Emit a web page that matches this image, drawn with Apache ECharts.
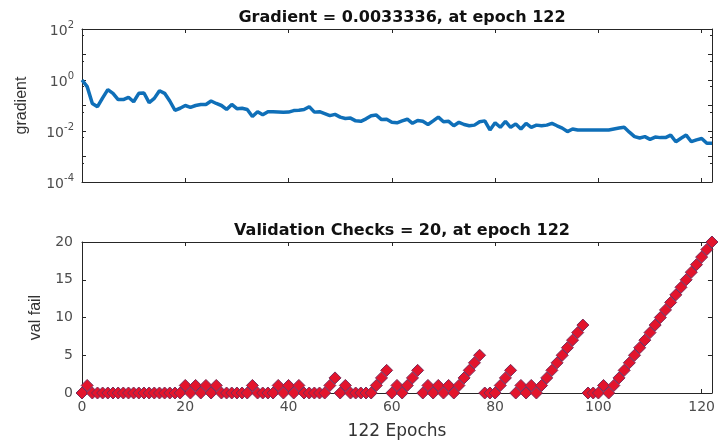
<!DOCTYPE html>
<html>
<head>
<meta charset="utf-8">
<script src="https://cdn.jsdelivr.net/npm/echarts@6/dist/echarts.min.js"></script>
<style>
  html, body { margin: 0; padding: 0; background: #fff; }
  #chart { width: 718px; height: 443px; }
</style>
</head>
<body>
<div id="chart"></div>
<script>
// gradient per epoch (0..122)
const gradient = [
  1.0, 0.55, 0.12, 0.09, 0.2, 0.42, 0.3, 0.17, 0.17, 0.21,
  0.14, 0.3, 0.31, 0.13, 0.19, 0.38, 0.3, 0.15, 0.065, 0.078,
  0.1, 0.085, 0.1, 0.11, 0.11, 0.15, 0.12, 0.1, 0.07, 0.11,
  0.075, 0.078, 0.07, 0.037, 0.057, 0.043, 0.057, 0.057, 0.056, 0.054,
  0.055, 0.063, 0.065, 0.07, 0.09, 0.055, 0.057, 0.048, 0.04, 0.045,
  0.035, 0.031, 0.032, 0.025, 0.024, 0.03, 0.04, 0.042, 0.028, 0.029,
  0.022, 0.021, 0.025, 0.029, 0.02, 0.026, 0.024, 0.018, 0.025, 0.035,
  0.023, 0.024, 0.016, 0.022, 0.018, 0.016, 0.017, 0.023, 0.025, 0.011,
  0.021, 0.014, 0.024, 0.014, 0.019, 0.012, 0.02, 0.014, 0.017, 0.016,
  0.017, 0.02, 0.016, 0.013, 0.0095, 0.012, 0.011, 0.011, 0.011, 0.011,
  0.011, 0.011, 0.011, 0.012, 0.013, 0.014, 0.009, 0.006, 0.0053, 0.006,
  0.0047, 0.0058, 0.0055, 0.0055, 0.0069, 0.0038, 0.0052, 0.0069, 0.0038, 0.0045,
  0.0051, 0.0033, 0.0033336
];

// validation failures per epoch (0..122)
const valFail = [
  0, 1, 0, 0, 0, 0, 0, 0, 0, 0,
  0, 0, 0, 0, 0, 0, 0, 0, 0, 0,
  1, 0, 1, 0, 1, 0, 1, 0, 0, 0,
  0, 0, 0, 1, 0, 0, 0, 0, 1, 0,
  1, 0, 1, 0, 0, 0, 0, 0, 1, 2,
  0, 1, 0, 0, 0, 0, 0, 1, 2, 3,
  0, 1, 0, 1, 2, 3, 0, 1, 0, 1,
  0, 1, 0, 1, 2, 3, 4, 5, 0, 0,
  0, 1, 2, 3, 0, 1, 0, 1, 0, 1,
  2, 3, 4, 5, 6, 7, 8, 9, 0, 0,
  0, 1, 0, 1, 2, 3, 4, 5, 6, 7,
  8, 9, 10, 11, 12, 13, 14, 15, 16, 17,
  18, 19, 20
];

// exponent shown for each labelled decade of the gradient axis
const gradTicks = { '100': '2', '1': '0', '0.01': '-2', '0.0001': '-4' };

const chart = echarts.init(document.getElementById('chart'));

const font = 'Liberation Sans, Arial, sans-serif';
const wide = 'DejaVu Sans, sans-serif';
const axisCol = '#262626';
const tickLbl = { color: '#4d4d4d', fontSize: 14, fontFamily: wide };

function boxAxis(pos, grid, type, extra) {
  return Object.assign({
    gridIndex: grid, position: pos, type: type,
    axisLine: { show: true, onZero: false, lineStyle: { color: axisCol, width: 1 } },
    axisTick: { show: true, inside: true, length: 4, lineStyle: { color: axisCol } },
    axisLabel: { show: false },
    splitLine: { show: false }
  }, extra);
}

chart.setOption({
  animation: false,
  textStyle: { fontFamily: font },
  title: [
    { text: 'Gradient = 0.0033336, at epoch 122', left: 397, textAlign: 'center', top: 5,
      textStyle: { fontSize: 16, fontWeight: 'bold', color: '#111', fontFamily: wide } },
    { text: 'Validation Checks = 20, at epoch 122', left: 397, textAlign: 'center', top: 218,
      textStyle: { fontSize: 16, fontWeight: 'bold', color: '#111', fontFamily: wide } }
  ],
  grid: [
    { left: 82, right: 6, top: 29, height: 153 },
    { left: 82, right: 6, top: 242, height: 151 }
  ],
  xAxis: [
    boxAxis('bottom', 0, 'value', { min: 0, max: 122, interval: 20 }),
    boxAxis('top', 0, 'value', { min: 0, max: 122, interval: 20 }),
    boxAxis('bottom', 1, 'value', {
      min: 0, max: 122, interval: 20,
      axisLabel: Object.assign({ show: true, margin: 7, showMaxLabel: false }, tickLbl),
      name: '122 Epochs', nameLocation: 'middle', nameGap: 30,
      nameTextStyle: { fontSize: 17, color: '#333', fontFamily: wide }
    }),
    boxAxis('top', 1, 'value', { min: 0, max: 122, interval: 20 })
  ],
  yAxis: [
    boxAxis('left', 0, 'log', {
      min: 1e-4, max: 1e2, logBase: 10,
      minorTick: { show: true, splitNumber: 2, length: 2, lineStyle: { color: axisCol } },
      axisLabel: {
        show: true, margin: 8,
        formatter: function (v) {
          const k = String(+v.toPrecision(3));
          if (gradTicks[k] === undefined) return '';
          return '{b|10}{s|' + gradTicks[k] + '}';
        },
        rich: {
          b: { fontSize: 14, color: '#4d4d4d', fontFamily: wide, lineHeight: 18, verticalAlign: 'bottom' },
          s: { fontSize: 10, color: '#4d4d4d', fontFamily: wide, lineHeight: 18, verticalAlign: 'top' }
        }
      },
      name: 'gradient', nameLocation: 'middle', nameGap: 52,
      nameTextStyle: { fontSize: 16, color: '#333', fontFamily: font }
    }),
    boxAxis('right', 0, 'log', { min: 1e-4, max: 1e2, logBase: 10,
      minorTick: { show: true, splitNumber: 2, length: 2, lineStyle: { color: axisCol } } }),
    boxAxis('left', 1, 'value', {
      min: 0, max: 20, interval: 5,
      axisLabel: Object.assign({ show: true, margin: 9 }, tickLbl),
      name: 'val fail', nameLocation: 'middle', nameGap: 38,
      nameTextStyle: { fontSize: 16, color: '#333', fontFamily: font }
    }),
    boxAxis('right', 1, 'value', { min: 0, max: 20, interval: 5 })
  ],
  series: [
    {
      type: 'line', xAxisIndex: 0, yAxisIndex: 0,
      data: gradient.map((v, i) => [i, v]),
      showSymbol: false,
      lineStyle: { color: '#0f6fb8', width: 3.5 },
      z: 3
    },
    {
      type: 'scatter', xAxisIndex: 2, yAxisIndex: 2,
      data: valFail.map((v, i) => [i, v]),
      symbol: 'diamond', symbolSize: [12, 12],
      clip: false,
      itemStyle: { color: '#e3142c', borderColor: '#7a2a58', borderWidth: 1, opacity: 1 },
      z: 3
    }
  ]
});
</script>
</body>
</html>
